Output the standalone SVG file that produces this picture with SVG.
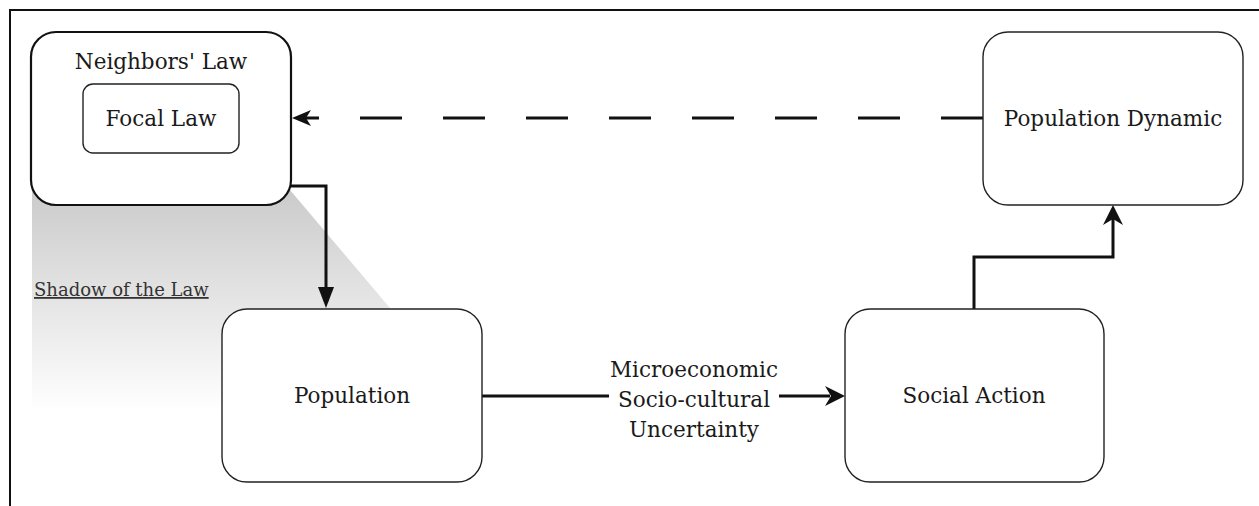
<svg xmlns="http://www.w3.org/2000/svg" width="1259" height="506" viewBox="0 0 1259 506">
  <style>
    .node { fill: #ffffff; stroke: #222222; stroke-width: 1.4; }
    .thick { stroke-width: 2.2; stroke: #111111; }
    .lbl { font-family: "DejaVu Serif", "Liberation Serif", serif; font-size: 21.5px; fill: #1a1a1a; text-anchor: middle; }
    .edge { fill: none; stroke: #111111; stroke-width: 3; }
    .head { fill: #111111; stroke: none; }
  </style>
  <defs>
    <linearGradient id="shadowGrad" x1="0" y1="190" x2="0" y2="412" gradientUnits="userSpaceOnUse">
      <stop offset="0" stop-color="#cbcbcb"/>
      <stop offset="1" stop-color="#ffffff"/>
    </linearGradient>
  </defs>

  <rect x="0" y="0" width="1259" height="506" fill="#ffffff"/>

  <!-- frame -->
  <g id="frame">
    <path d="M10,506 L10,10 L1259,10" fill="none" stroke="#111111" stroke-width="2"/>
  </g>

  <!-- shadow of the law -->
  <g id="shadow">
    <polygon points="32,190 290,190 390,308 390,412 32,412" fill="url(#shadowGrad)"/>
    <text x="34" y="296" style="font-family: 'DejaVu Serif', 'Liberation Serif', serif; font-size: 18px; fill: #333333;" text-decoration="underline">Shadow of the Law</text>
  </g>

  <!-- connectors -->
  <g id="connectors">
    <!-- Population Dynamic -> Neighbors' Law (dashed) -->
    <path class="edge" d="M983,118 L300,118" stroke-dasharray="42 41"/>
    <polygon class="head" points="292,118 311,110 306,118 311,126"/>
    <!-- Neighbors' Law -> Population -->
    <path class="edge" d="M290,186 L326,186 L326,290"/>
    <polygon class="head" points="326,308 318,287 334,287"/>
    <!-- Population -> Social Action -->
    <path class="edge" d="M482,396 L830,396"/>
    <polygon class="head" points="845,396 825,386 831,396 825,406"/>
    <!-- Social Action -> Population Dynamic -->
    <path class="edge" d="M974,309 L974,257 L1113,257 L1113,218"/>
    <polygon class="head" points="1113,205 1103,225 1113,219 1123,225"/>
    <!-- edge label -->
    <g id="edge-label">
      <rect x="609" y="356" width="170" height="86" fill="#ffffff"/>
      <text class="lbl" x="694" y="377">Microeconomic</text>
      <text class="lbl" x="694" y="407">Socio-cultural</text>
      <text class="lbl" x="694" y="437">Uncertainty</text>
    </g>
  </g>

  <!-- nodes -->
  <g id="neighbors-law">
    <rect class="node thick" x="31" y="32" width="260" height="173" rx="25" ry="25"/>
    <text class="lbl" x="161" y="69">Neighbors' Law</text>
  </g>
  <g id="focal-law">
    <rect class="node" x="83" y="84" width="156" height="69" rx="10" ry="10" stroke-width="1.2"/>
    <text class="lbl" x="161" y="126">Focal Law</text>
  </g>
  <g id="population">
    <rect class="node" x="222" y="309" width="260" height="173" rx="25" ry="25"/>
    <text class="lbl" x="352" y="403">Population</text>
  </g>
  <g id="social-action">
    <rect class="node" x="845" y="309" width="259" height="173" rx="25" ry="25"/>
    <text class="lbl" x="974" y="403">Social Action</text>
  </g>
  <g id="population-dynamic">
    <rect class="node" x="983" y="32" width="260" height="173" rx="25" ry="25"/>
    <text class="lbl" x="1113" y="126">Population Dynamic</text>
  </g>
</svg>
